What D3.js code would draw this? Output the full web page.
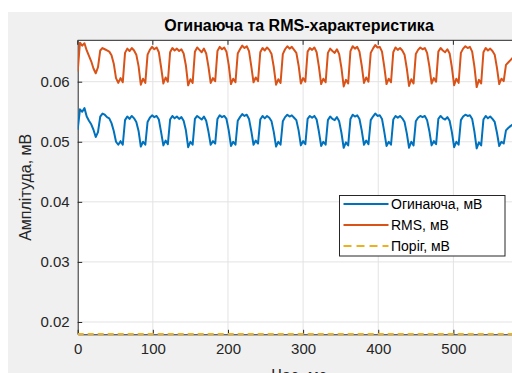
<!DOCTYPE html>
<html>
<head>
<meta charset="utf-8">
<script src="https://cdn.jsdelivr.net/npm/d3@7"></script>
<style>
  html, body { margin: 0; padding: 0; background: #fff; overflow: hidden; }
  svg { display: block; font-family: "Liberation Sans", Arial, sans-serif; }
</style>
</head>
<body>
<div id="chart"></div>
<script>
// Sampling step of both curves, ms
const sampleStepMs = 3;

// Envelope, mV (blue)
const envelope = [
  0.0520, 0.0554, 0.0550, 0.0556, 0.0542, 0.0535, 0.0529, 0.0520, 0.0508, 0.0516,
  0.0542, 0.0547, 0.0545, 0.0541, 0.0539, 0.0531, 0.0518, 0.0500, 0.0495, 0.0501,
  0.0495, 0.0536, 0.0542, 0.0538, 0.0543, 0.0539, 0.0533, 0.0518, 0.0492, 0.0500,
  0.0495, 0.0533, 0.0540, 0.0544, 0.0541, 0.0543, 0.0537, 0.0516, 0.0494, 0.0502,
  0.0496, 0.0537, 0.0543, 0.0539, 0.0542, 0.0538, 0.0541, 0.0535, 0.0519, 0.0491,
  0.0500, 0.0495, 0.0538, 0.0543, 0.0540, 0.0537, 0.0542, 0.0535, 0.0517, 0.0495,
  0.0501, 0.0497, 0.0538, 0.0544, 0.0541, 0.0543, 0.0538, 0.0519, 0.0493, 0.0500,
  0.0495, 0.0535, 0.0541, 0.0546, 0.0543, 0.0545, 0.0538, 0.0518, 0.0495, 0.0502,
  0.0497, 0.0537, 0.0543, 0.0539, 0.0543, 0.0540, 0.0534, 0.0516, 0.0492, 0.0500,
  0.0495, 0.0534, 0.0541, 0.0545, 0.0542, 0.0544, 0.0540, 0.0536, 0.0519, 0.0494,
  0.0501, 0.0496, 0.0538, 0.0543, 0.0540, 0.0543, 0.0537, 0.0517, 0.0493, 0.0500,
  0.0495, 0.0536, 0.0542, 0.0538, 0.0536, 0.0541, 0.0534, 0.0515, 0.0490, 0.0499,
  0.0494, 0.0538, 0.0545, 0.0542, 0.0544, 0.0538, 0.0519, 0.0495, 0.0502, 0.0496,
  0.0536, 0.0542, 0.0547, 0.0543, 0.0544, 0.0538, 0.0517, 0.0493, 0.0500, 0.0495,
  0.0537, 0.0543, 0.0540, 0.0543, 0.0539, 0.0533, 0.0514, 0.0490, 0.0500, 0.0494,
  0.0534, 0.0540, 0.0543, 0.0541, 0.0543, 0.0536, 0.0518, 0.0494, 0.0501, 0.0496,
  0.0538, 0.0543, 0.0539, 0.0537, 0.0541, 0.0535, 0.0516, 0.0491, 0.0500, 0.0495,
  0.0536, 0.0542, 0.0545, 0.0543, 0.0544, 0.0538, 0.0517, 0.0489, 0.0499, 0.0494,
  0.0537, 0.0543, 0.0539, 0.0542, 0.0538, 0.0533, 0.0515, 0.0493, 0.0500, 0.0497,
  0.0519, 0.0523, 0.0526, 0.0529, 0.0533, 0.0538, 0.0539
];

// RMS, mV (orange)
const rms = [
  0.0617, 0.0665, 0.0660, 0.0664, 0.0652, 0.0643, 0.0634, 0.0622, 0.0614, 0.0624,
  0.0652, 0.0656, 0.0654, 0.0652, 0.0650, 0.0644, 0.0630, 0.0606, 0.0598, 0.0606,
  0.0599, 0.0648, 0.0655, 0.0651, 0.0656, 0.0652, 0.0645, 0.0626, 0.0595, 0.0605,
  0.0598, 0.0645, 0.0653, 0.0658, 0.0654, 0.0657, 0.0649, 0.0624, 0.0597, 0.0607,
  0.0600, 0.0649, 0.0656, 0.0652, 0.0655, 0.0651, 0.0654, 0.0647, 0.0627, 0.0594,
  0.0604, 0.0598, 0.0650, 0.0657, 0.0653, 0.0649, 0.0655, 0.0647, 0.0625, 0.0598,
  0.0606, 0.0601, 0.0651, 0.0658, 0.0654, 0.0657, 0.0650, 0.0628, 0.0596, 0.0605,
  0.0599, 0.0647, 0.0654, 0.0660, 0.0656, 0.0659, 0.0651, 0.0626, 0.0599, 0.0607,
  0.0601, 0.0649, 0.0656, 0.0652, 0.0657, 0.0653, 0.0646, 0.0624, 0.0595, 0.0604,
  0.0598, 0.0646, 0.0654, 0.0659, 0.0655, 0.0658, 0.0653, 0.0648, 0.0627, 0.0597,
  0.0606, 0.0600, 0.0650, 0.0656, 0.0653, 0.0657, 0.0649, 0.0625, 0.0596, 0.0605,
  0.0599, 0.0648, 0.0655, 0.0651, 0.0648, 0.0654, 0.0646, 0.0623, 0.0592, 0.0603,
  0.0597, 0.0651, 0.0659, 0.0655, 0.0658, 0.0650, 0.0627, 0.0598, 0.0607, 0.0600,
  0.0648, 0.0655, 0.0661, 0.0657, 0.0658, 0.0650, 0.0625, 0.0596, 0.0605, 0.0599,
  0.0649, 0.0657, 0.0653, 0.0656, 0.0652, 0.0645, 0.0622, 0.0593, 0.0604, 0.0597,
  0.0646, 0.0653, 0.0657, 0.0654, 0.0656, 0.0648, 0.0626, 0.0597, 0.0606, 0.0600,
  0.0650, 0.0656, 0.0652, 0.0649, 0.0654, 0.0647, 0.0624, 0.0594, 0.0605, 0.0598,
  0.0648, 0.0655, 0.0659, 0.0656, 0.0658, 0.0650, 0.0625, 0.0591, 0.0603, 0.0597,
  0.0649, 0.0656, 0.0652, 0.0655, 0.0651, 0.0645, 0.0623, 0.0596, 0.0605, 0.0601,
  0.0628, 0.0632, 0.0636, 0.0640, 0.0645, 0.0650, 0.0652
];

// Threshold, mV (yellow dashed)
const thresholdLevel = 0.018;

const xTicks = [0, 100, 200, 300, 400, 500];
const yTicks = [0.02, 0.03, 0.04, 0.05, 0.06];
const seriesNames = ["Огинаюча, мВ", "RMS, мВ", "Поріг, мВ"];
const seriesColors = ["#0072BD", "#D95319", "#EDB120"];

const W = 512, H = 373;
const plot = { left: 77.7, right: 521, top: 40.3, bottom: 334.3 };

const svg = d3.select("#chart").append("svg")
  .attr("width", W).attr("height", H);

// figure background
svg.append("rect")
  .attr("x", 8).attr("y", 12)
  .attr("width", W - 8).attr("height", H - 12)
  .attr("fill", "#f0f0f0");

svg.append("rect")
  .attr("x", plot.left).attr("y", plot.top)
  .attr("width", plot.right - plot.left).attr("height", plot.bottom - plot.top)
  .attr("fill", "#fff");

const x = d3.scaleLinear().domain([0, 590]).range([plot.left, plot.right]);
const y = d3.scaleLinear().domain([0.01795, 0.06689]).range([plot.bottom, plot.top]);

// grid
const grid = svg.append("g").attr("stroke", "#e3e3e3").attr("stroke-width", 1);
grid.selectAll(".gx").data(xTicks.slice(1)).join("line")
  .attr("x1", d => x(d)).attr("x2", d => x(d))
  .attr("y1", plot.top).attr("y2", plot.bottom);
grid.selectAll(".gy").data(yTicks).join("line")
  .attr("x1", plot.left).attr("x2", plot.right)
  .attr("y1", d => y(d)).attr("y2", d => y(d));

svg.append("defs").append("clipPath").attr("id", "clip")
  .append("rect")
  .attr("x", plot.left).attr("y", plot.top - 1)
  .attr("width", plot.right - plot.left).attr("height", plot.bottom - plot.top + 2);

// axes
const xAxis = svg.append("g")
  .attr("transform", `translate(0,${plot.bottom})`)
  .call(d3.axisBottom(x).tickValues(xTicks).tickFormat(d3.format("d"))
    .tickSizeInner(-4.5).tickSizeOuter(0).tickPadding(9));

const yAxis = svg.append("g")
  .attr("transform", `translate(${plot.left},0)`)
  .call(d3.axisLeft(y).tickValues(yTicks).tickFormat(d3.format(".2f"))
    .tickSizeInner(-4.5).tickSizeOuter(0).tickPadding(8));

[xAxis, yAxis].forEach(a => {
  a.select(".domain").attr("stroke", "#262626");
  a.selectAll(".tick line").attr("stroke", "#262626");
  a.selectAll(".tick text").attr("fill", "#262626")
    .attr("font-size", "15px")
    .attr("font-family", "'Liberation Sans', Arial, sans-serif");
});

// top box edge with mirrored ticks
svg.append("line")
  .attr("x1", plot.left).attr("x2", plot.right)
  .attr("y1", plot.top).attr("y2", plot.top)
  .attr("stroke", "#262626");
svg.append("g").selectAll("line").data(xTicks).join("line")
  .attr("x1", d => x(d)).attr("x2", d => x(d))
  .attr("y1", plot.top).attr("y2", plot.top + 4.5)
  .attr("stroke", "#262626");

// curves
const times = envelope.map((_, i) => i * sampleStepMs);
const line = d3.line().x((d, i) => x(times[i])).y(d => y(d));
const curves = svg.append("g").attr("clip-path", "url(#clip)");

curves.append("path").datum(envelope)
  .attr("d", line).attr("fill", "none")
  .attr("stroke", seriesColors[0]).attr("stroke-width", 2)
  .attr("stroke-linejoin", "round");

curves.append("path").datum(rms)
  .attr("d", line).attr("fill", "none")
  .attr("stroke", seriesColors[1]).attr("stroke-width", 2)
  .attr("stroke-linejoin", "round");

curves.append("line")
  .attr("x1", x(0)).attr("x2", x(590))
  .attr("y1", y(thresholdLevel)).attr("y2", y(thresholdLevel))
  .attr("stroke", seriesColors[2]).attr("stroke-width", 2)
  .attr("stroke-dasharray", "6,4");

// title and labels
svg.append("text")
  .attr("x", 299).attr("y", 31)
  .attr("text-anchor", "middle")
  .attr("font-size", "16px").attr("font-weight", "bold")
  .attr("fill", "#000")
  .text("Огинаюча та RMS-характеристика");

svg.append("text")
  .attr("transform", `translate(31,187.3) rotate(-90)`)
  .attr("text-anchor", "middle")
  .attr("font-size", "16px")
  .attr("fill", "#262626")
  .text("Амплітуда, мВ");

svg.append("text")
  .attr("x", 299).attr("y", 381)
  .attr("text-anchor", "middle")
  .attr("font-size", "16px")
  .attr("fill", "#262626")
  .text("Час, мс");

// legend
const legend = svg.append("g");
legend.append("rect")
  .attr("x", 339.5).attr("y", 195.5)
  .attr("width", 165.5).attr("height", 60.5)
  .attr("fill", "#fff").attr("stroke", "#262626").attr("stroke-width", 1);

seriesNames.forEach((name, i) => {
  const ly = 204 + i * 21;
  legend.append("line")
    .attr("x1", 343.5).attr("x2", 388.5)
    .attr("y1", ly).attr("y2", ly)
    .attr("stroke", seriesColors[i]).attr("stroke-width", 2)
    .attr("stroke-dasharray", i === 2 ? "8,5" : null);
  legend.append("text")
    .attr("x", 391).attr("y", ly + 5)
    .attr("font-size", "14px")
    .attr("fill", "#000")
    .text(name);
});
</script>
</body>
</html>
